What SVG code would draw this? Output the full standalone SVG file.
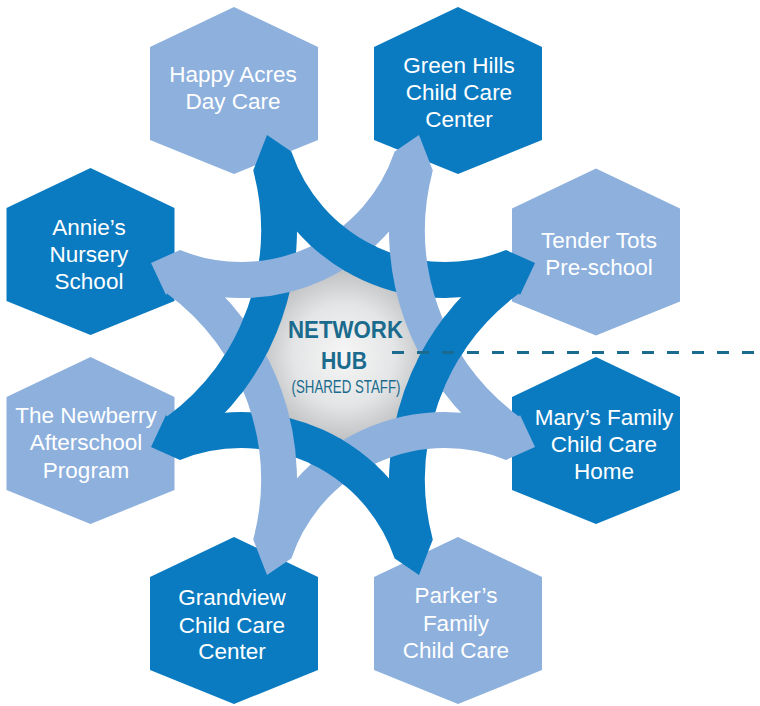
<svg xmlns="http://www.w3.org/2000/svg" xmlns:xlink="http://www.w3.org/1999/xlink" width="760" height="706" viewBox="0 0 760 706">
<style>
.dk{fill:#0a7bc1}
.lt{fill:#8db0dd}
.bd{fill:none;stroke:#0a7bc1;stroke-width:36}
.bl{fill:none;stroke:#8db0dd;stroke-width:36}
.lbl{font-family:"Liberation Sans",Arial,sans-serif;font-size:22.5px;fill:#fff;text-anchor:middle}
.hub{font-family:"Liberation Sans",Arial,sans-serif;fill:#1a6b8d;text-anchor:middle}
</style>
<defs>
<path id="hex" d="M0,-83.5 L84,-43.5 L84,49.5 L0,83.5 L-84,49.5 L-84,-43.5 Z"/>
<radialGradient id="hubg" cx="0.5" cy="0.5" r="0.5">
<stop offset="0" stop-color="#f6f6f6"/>
<stop offset="0.55" stop-color="#e4e5e6"/>
<stop offset="1" stop-color="#b9babc"/>
</radialGradient>
<clipPath id="cTop"><ellipse cx="343" cy="248" rx="34" ry="24"/></clipPath>
<clipPath id="cRight"><ellipse cx="440.5" cy="355" rx="24" ry="40"/></clipPath>
<clipPath id="cBottom"><ellipse cx="343" cy="462" rx="34" ry="24"/></clipPath>
<clipPath id="cLeft"><ellipse cx="245.5" cy="355" rx="24" ry="40"/></clipPath>
</defs>

<g id="hub-center">
<circle cx="344" cy="355" r="92" fill="url(#hubg)"/>
</g>

<g id="node-happy-acres">
<use xlink:href="#hex" href="#hex" x="234" y="90.5" class="lt"/>
<text class="lbl" x="233" y="82">Happy Acres</text>
<text class="lbl" x="233" y="108.5">Day Care</text>
</g>
<g id="node-green-hills">
<use xlink:href="#hex" href="#hex" x="458" y="90.5" class="dk"/>
<text class="lbl" x="459" y="73">Green Hills</text>
<text class="lbl" x="459" y="100">Child Care</text>
<text class="lbl" x="459" y="127">Center</text>
</g>
<g id="node-annies">
<use xlink:href="#hex" href="#hex" x="90.5" y="251.5" class="dk"/>
<text class="lbl" x="89" y="235">Annie’s</text>
<text class="lbl" x="89" y="262">Nursery</text>
<text class="lbl" x="89" y="289">School</text>
</g>
<g id="node-tender-tots">
<use xlink:href="#hex" href="#hex" x="596" y="252" class="lt"/>
<text class="lbl" x="599" y="247.5">Tender Tots</text>
<text class="lbl" x="599" y="275">Pre-school</text>
</g>
<g id="node-newberry">
<use xlink:href="#hex" href="#hex" x="90.5" y="440.5" class="lt"/>
<text class="lbl" x="86" y="423">The Newberry</text>
<text class="lbl" x="86" y="450">Afterschool</text>
<text class="lbl" x="86" y="478">Program</text>
</g>
<g id="node-marys">
<use xlink:href="#hex" href="#hex" x="596" y="440.5" class="dk"/>
<text class="lbl" x="604" y="425">Mary’s Family</text>
<text class="lbl" x="604" y="452">Child Care</text>
<text class="lbl" x="604" y="479">Home</text>
</g>
<g id="node-grandview">
<use xlink:href="#hex" href="#hex" x="234" y="620.5" class="dk"/>
<text class="lbl" x="232" y="605">Grandview</text>
<text class="lbl" x="232" y="632.5">Child Care</text>
<text class="lbl" x="232" y="659">Center</text>
</g>
<g id="node-parkers">
<use xlink:href="#hex" href="#hex" x="458" y="620.5" class="lt"/>
<text class="lbl" x="456" y="603">Parker’s</text>
<text class="lbl" x="456" y="631">Family</text>
<text class="lbl" x="456" y="658">Child Care</text>
</g>

<g id="connectors">
<g id="dark-bands">
<path id="d1" class="bd" d="M274.7,158.3 A180,180 0 0 0 512.7,266.8"/>
<path id="d2" class="bd" d="M508.6,278.8 A250,250 0 0 0 415.2,543.4"/>
<path id="d3" class="bd" d="M411.3,551.7 A180,180 0 0 0 173.3,443.2"/>
<path id="d4" class="bd" d="M177.4,431.2 A250,250 0 0 0 270.8,166.6"/>
<polygon class="dk" points="253,171 267,135 292,152 275,170"/>
<polygon class="dk" points="506,250 535,263 520,295 505,275"/>
<polygon class="dk" points="433,539 419,575 394,558 411,540"/>
<polygon class="dk" points="180,460 151,447 166,415 181,435"/>
</g>
<g id="light-bands">
<path class="bl" d="M411.3,158.3 A180,180 0 0 1 173.3,266.8"/>
<path class="bl" d="M508.6,431.2 A250,250 0 0 1 415.2,166.6"/>
<path class="bl" d="M274.7,551.7 A180,180 0 0 1 512.7,443.2"/>
<path class="bl" d="M177.4,278.8 A250,250 0 0 1 270.8,543.4"/>
<polygon class="lt" points="433,171 419,135 394,152 411,170"/>
<polygon class="lt" points="180,250 151,263 166,295 181,275"/>
<polygon class="lt" points="253,539 267,575 292,558 275,540"/>
<polygon class="lt" points="506,460 535,447 520,415 505,435"/>
</g>
<g id="weave-over">
<use xlink:href="#d1" href="#d1" clip-path="url(#cTop)"/>
<use xlink:href="#d2" href="#d2" clip-path="url(#cRight)"/>
<use xlink:href="#d3" href="#d3" clip-path="url(#cBottom)"/>
<use xlink:href="#d4" href="#d4" clip-path="url(#cLeft)"/>
</g>
<line id="dashed-link" x1="392" y1="352.5" x2="760" y2="352.5" stroke="#1a6b8d" stroke-width="3" stroke-dasharray="12 13"/>
</g>

<g id="hub-label">
<text class="hub" x="345.5" y="338" font-size="24.5" font-weight="bold" textLength="115" lengthAdjust="spacingAndGlyphs">NETWORK</text>
<text class="hub" x="344" y="369" font-size="24.5" font-weight="bold" textLength="46" lengthAdjust="spacingAndGlyphs">HUB</text>
<text class="hub" x="346" y="393" font-size="18.5" textLength="109" lengthAdjust="spacingAndGlyphs">(SHARED STAFF)</text>
</g>
</svg>
